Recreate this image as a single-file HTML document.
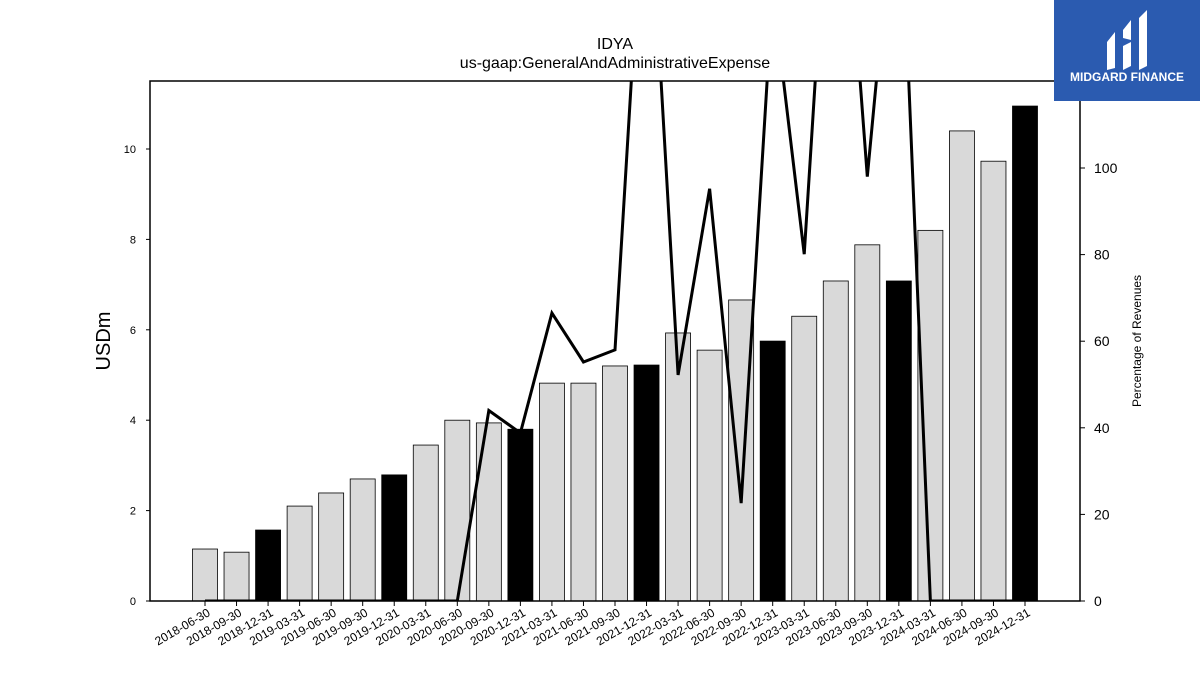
<!DOCTYPE html>
<html><head><meta charset="utf-8"><style>
body{margin:0;background:#fff;font-family:"Liberation Sans","DejaVu Sans",sans-serif}
</style></head><body>
<svg id="chart" width="1200" height="675" viewBox="0 0 1200 675" xmlns="http://www.w3.org/2000/svg">
<text x="615" y="49" font-size="16" text-anchor="middle">IDYA</text>
<text x="615" y="68" font-size="16" text-anchor="middle">us-gaap:GeneralAndAdministrativeExpense</text>
<g id="bars"></g>
<g id="line"></g>
<g id="axes"></g>
<g>
<rect x="1054" y="0" width="146" height="101" fill="#2b5bb0"/>
<path d="M1107 42 L1115 32 L1115 68 L1107 70 Z" fill="#fff"/>
<path d="M1123 30 L1131 20 L1131 40 L1123 38 Z M1123 46 L1131 42 L1131 66 L1123 70 Z" fill="#fff"/>
<path d="M1139 18 L1147 10 L1147 66 L1139 70 Z" fill="#fff"/>
<text x="1127" y="81" font-size="12" font-weight="bold" fill="#fff" text-anchor="middle">MIDGARD FINANCE</text>
</g>
</svg>
<script>
const categories=["2018-06-30","2018-09-30","2018-12-31","2019-03-31","2019-06-30","2019-09-30","2019-12-31","2020-03-31","2020-06-30","2020-09-30","2020-12-31","2021-03-31","2021-06-30","2021-09-30","2021-12-31","2022-03-31","2022-06-30","2022-09-30","2022-12-31","2023-03-31","2023-06-30","2023-09-30","2023-12-31","2024-03-31","2024-06-30","2024-09-30","2024-12-31"];
const expenseValues=[1.15,1.08,1.57,2.1,2.39,2.7,2.79,3.45,4.0,3.94,3.8,4.82,4.82,5.2,5.22,5.93,5.55,6.66,5.75,6.3,7.08,7.88,7.08,8.2,10.4,9.73,10.95];
const pctRevenue=[0,0,0,0,0,0,0,0,0,44,38.8,66.5,55.2,58,178,52.2,95.2,22.6,141,80.1,195,98,175,0,0,0,0];
const leftTicks=[0,2,4,6,8,10];
const rightTicks=[0,20,40,60,80,100];
const NS="http://www.w3.org/2000/svg";
const L=150,R=1080,T=81,B=601;
const yL=v=>B-v*45.2;
const yR=v=>B-v*4.33;
const xC=i=>205+i*(1025-205)/(categories.length-1);
function mk(tag,attrs,parent){const e=document.createElementNS(NS,tag);for(const k in attrs)e.setAttribute(k,attrs[k]);parent.appendChild(e);return e;}
const bars=document.getElementById('bars'),line=document.getElementById('line'),axes=document.getElementById('axes');
expenseValues.forEach((v,i)=>{
 const annual=categories[i].endsWith('12-31');
 const r=mk('rect',{x:xC(i)-12.5,y:yL(v),width:25,height:B-yL(v),fill:annual?'#000':'#d9d9d9',stroke:'#000','stroke-width':0.8},bars);
 
 
});
const cp=mk('clipPath',{id:'clip'},line);mk('rect',{x:L,y:T,width:R-L,height:B-T},cp);
const pl=mk('polyline',{points:pctRevenue.map((v,i)=>xC(i)+','+yR(v)).join(' '),fill:'none',stroke:'#000','stroke-width':3,'stroke-linejoin':'miter','clip-path':'url(#clip)'},line);


const fr=mk('rect',{x:L,y:T,width:R-L,height:B-T,fill:'none',stroke:'#000','stroke-width':1.5},axes);


leftTicks.forEach(t=>{
 mk('line',{x1:L-4,x2:L,y1:yL(t),y2:yL(t),stroke:'#000'},axes);
 const tx=mk('text',{x:L-14,y:yL(t)+4,'font-size':11,'text-anchor':'end'},axes);tx.textContent=t;
 
 
});
rightTicks.forEach(t=>{
 mk('line',{x1:R,x2:R+5,y1:yR(t),y2:yR(t),stroke:'#000'},axes);
 const tx=mk('text',{x:R+14,y:yR(t)+5,'font-size':14},axes);tx.textContent=t;
 
 
});
categories.forEach((c,i)=>{
 mk('line',{x1:xC(i),x2:xC(i),y1:B,y2:B+5,stroke:'#000'},axes);
 const tx=mk('text',{x:xC(i)+6,y:B+14,'font-size':12,'text-anchor':'end',transform:`rotate(-30 ${xC(i)+6} ${B+14})`},axes);tx.textContent=c;
 
 
});
const yl=mk('text',{x:110,y:341,'font-size':20,'text-anchor':'middle',transform:'rotate(-90 110 341)'},axes);yl.textContent='USDm';


const yr=mk('text',{x:1141,y:341,'font-size':12,'text-anchor':'middle',transform:'rotate(-90 1141 341)'},axes);yr.textContent='Percentage of Revenues';


</script>
</body></html>
